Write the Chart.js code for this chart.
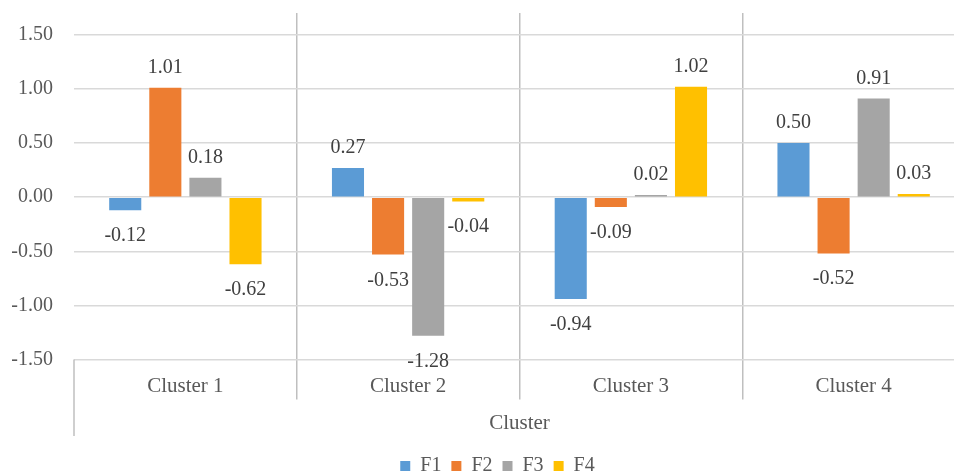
<!DOCTYPE html>
<html>
<head>
<meta charset="utf-8">
<title>Cluster</title>
<script src="https://cdn.jsdelivr.net/npm/chart.js@4"></script>
<style>
  html, body { margin: 0; padding: 0; background: #ffffff; overflow: hidden; }
  #contenedor { width: 965px; height: 476px; position: relative; }
</style>
</head>
<body>
<div id="contenedor"><canvas id="grafico"></canvas></div>
<script>
/* ******* Datos ******** */
const categorias = ["Cluster 1", "Cluster 2", "Cluster 3", "Cluster 4"];
const series = ["F1", "F2", "F3", "F4"];
const valoresF1 = [-0.12, 0.27, -0.94, 0.50];
const valoresF2 = [1.01, -0.53, -0.09, -0.52];
const valoresF3 = [0.18, -1.28, 0.02, 0.91];
const valoresF4 = [-0.62, -0.04, 1.02, 0.03];
const ticksY = [-1.5, -1.0, -0.5, 0, 0.5, 1.0, 1.5];
const colores = ["#5B9BD5", "#ED7D31", "#A5A5A5", "#FFC000"];

const fuente = "'Liberation Serif', 'Times New Roman', serif";
const ctx = document.getElementById("grafico");

/* ** Etiquetas de valor encima / debajo de cada barra ** */
const etiquetasValor = {
  id: "etiquetasValor",
  afterDatasetsDraw(chart) {
    const c = chart.ctx;
    c.save();
    c.font = "20px " + fuente;
    c.fillStyle = "#404040";
    c.textAlign = "center";
    c.textBaseline = "alphabetic";
    chart.data.datasets.forEach((ds, i) => {
      chart.getDatasetMeta(i).data.forEach((barra, j) => {
        const v = ds.data[j];
        const y = v >= 0 ? barra.y - 15 : barra.y + 31;
        c.fillText(v.toFixed(2), barra.x, y);
      });
    });
    c.restore();
  }
};

/* ** Linea izquierda bajo el eje (estilo eje multinivel) ** */
const lineaEje = {
  id: "lineaEje",
  afterLayout(chart) {
    // la leyenda de Excel queda algo desplazada a la derecha
    chart.legend.left += 15;
    chart.legend.right += 15;
  },
  afterDraw(chart) {
    const c = chart.ctx;
    const area = chart.chartArea;
    const ejeX = chart.scales.x;
    c.save();
    c.strokeStyle = "#bfbfbf";
    c.lineWidth = 1.5;
    c.beginPath();
    c.moveTo(area.left, area.bottom);
    c.lineTo(area.left, ejeX.bottom - 10);
    c.stroke();
    c.restore();
  }
};

const data = {
  labels: categorias,
  datasets: [valoresF1, valoresF2, valoresF3, valoresF4].map((valores, i) => ({
    label: series[i],
    data: valores,
    backgroundColor: colores[i],
    borderWidth: 0,
    categoryPercentage: 0.72,
    barPercentage: 0.8
  }))
};

const config = {
  type: "bar",
  data: data,
  plugins: [etiquetasValor, lineaEje],
  options: {
    responsive: true,
    maintainAspectRatio: false,
    animation: false,
    layout: { padding: { top: 13, left: 0, right: 0, bottom: -10 } },
    plugins: {
      tooltip: { enabled: false },
      legend: {
        position: "bottom",
        labels: {
          boxWidth: 10,
          boxHeight: 10,
          padding: 10,
          color: "#595959",
          font: { family: fuente, size: 20 }
        }
      }
    },
    scales: {
      x: {
        border: { display: false },
        grid: {
          offset: true,
          drawTicks: true,
          tickLength: 40,
          lineWidth: 1.5,
          color: (c) => c.index === 0 ? "rgba(0,0,0,0)" : "#bfbfbf",
          tickColor: (c) => c.index === 0 ? "rgba(0,0,0,0)" : "#bfbfbf"
        },
        ticks: {
          padding: -26,
          color: "#595959",
          font: { family: fuente, size: 21 }
        },
        title: {
          display: true,
          text: "Cluster",
          color: "#595959",
          padding: { top: 38, bottom: 10 },
          font: { family: fuente, size: 21 }
        }
      },
      y: {
        min: -1.5,
        max: 1.7,
        border: { display: false },
        afterFit: (escala) => { escala.width = 74; },
        afterBuildTicks: (escala) => {
          escala.ticks = ticksY.map(v => ({ value: v }));
        },
        grid: {
          drawTicks: true,
          tickLength: 21,
          tickColor: "rgba(0,0,0,0)",
          lineWidth: 1.5,
          color: "#d9d9d9"
        },
        ticks: {
          padding: 0,
          color: "#595959",
          font: { family: fuente, size: 20 },
          callback: (v) => Number(v).toFixed(2)
        }
      }
    }
  }
};

const miGrafico = new Chart(ctx, config);
</script>
</body>
</html>
